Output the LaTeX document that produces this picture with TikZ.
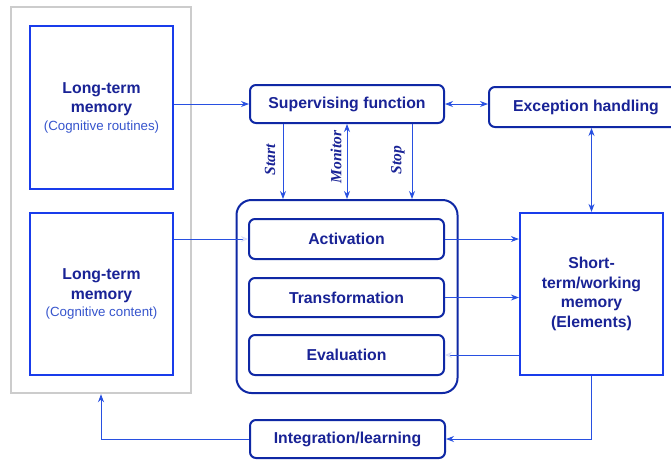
\documentclass[tikz,border=0pt]{standalone}
\usepackage{fontspec}
\setmainfont{Liberation Sans}
\newfontfamily\serifbi{Liberation Serif}
\usetikzlibrary{arrows.meta,calc}
\definecolor{bbox}{RGB}{25,60,235}
\definecolor{navy}{RGB}{15,40,165}
\definecolor{txt}{RGB}{25,35,150}
\definecolor{subtxt}{RGB}{55,85,205}
\definecolor{ln}{RGB}{40,80,225}
\definecolor{faint}{RGB}{215,220,250}
\newcommand\subtx[1]{{\mdseries\fontsize{13.3}{18}\selectfont\color{subtxt}#1}}
\tikzset{
  sqbox/.style={draw=bbox,line width=2.2pt,rectangle,inner sep=0pt,text=txt,align=center,
    font=\bfseries\fontsize{15.8}{19.5}\selectfont},
  rbox/.style={draw=navy,line width=2pt,rectangle,rounded corners=6pt,inner sep=0pt,text=txt,align=center,
    font=\bfseries\fontsize{15.8}{19.5}\selectfont},
  conn/.style={draw=ln,line width=0.9pt},
  arr/.style={conn,-{Stealth[length=8pt,width=6pt]}},
  arrb/.style={conn,{Stealth[length=8pt,width=6pt]}-{Stealth[length=8pt,width=6pt]}},
  farr/.style={conn,-{Stealth[length=7pt,width=6pt,open,color=faint]}},
  lbl/.style={text=txt,font=\serifbi\bfseries\itshape\fontsize{15.5}{17}\selectfont,rotate=90,inner sep=0pt}
}
\begin{document}
\begin{tikzpicture}[x=1pt,y=-1pt]
\useasboundingbox (0,0) rectangle (671,459);
\clip (0,0) rectangle (671,459);
\fill[white] (0,0) rectangle (671,459);
% gray container
\node[draw=black!20,line width=2.4pt,minimum width=180pt,minimum height=386pt,inner sep=0pt] (grayb) at (101,200) {};
% long-term memories
\node[sqbox,minimum width=143pt,minimum height=163pt] (ltm1) at (101.5,107.5)
  {Long-term\\memory\\[-2pt]\subtx{(Cognitive routines)}};
\node[sqbox,minimum width=143pt,minimum height=162pt] (ltm2) at (101.5,294)
  {Long-term\\memory\\[-2pt]\subtx{(Cognitive content)}};
% supervising & exception
\node[rbox,minimum width=194pt,minimum height=38pt] (sup) at (347,104) {Supervising function};
\node[rbox,minimum width=194pt,minimum height=40pt] (exc) at (586,107) {Exception handling};
% process group
\node[draw=navy,line width=2pt,rounded corners=15pt,minimum width=221pt,minimum height=193pt,inner sep=0pt] (proc) at (347,296.5) {};
\node[rbox,minimum width=195pt,minimum height=40pt] (act) at (346.5,239) {Activation};
\node[rbox,minimum width=195pt,minimum height=39pt] (tra) at (346.5,297.5) {Transformation};
\node[rbox,minimum width=195pt,minimum height=40pt] (eva) at (346.5,355) {Evaluation};
% short-term memory
\node[sqbox,minimum width=143pt,minimum height=162pt] (stm) at (591.5,294)
  {Short-\\term/working\\memory\\(Elements)};
% integration
\node[rbox,minimum width=195pt,minimum height=38pt] (integ) at (347.5,439) {Integration/learning};
% connectors
\draw[arr] (ltm1.east |- sup.west) -- (sup.west);
\draw[arrb] (sup.east) -- (sup.east -| exc.west);
\draw[arr] ([xshift=-64pt]sup.south) -- ([xshift=-64pt]sup.south |- proc.north);
\draw[arrb] (sup.south) -- (sup.south |- proc.north);
\draw[arr] ([xshift=65pt]sup.south) -- ([xshift=65pt]sup.south |- proc.north);
\node[lbl] (lstart) at (270,160) {Start};
\node[lbl] (lmon) at (336,157) {Monitor};
\node[lbl] (lstop) at (398,160) {Stop};
\draw[arrb] (stm.north |- exc.south) -- (stm.north);
\draw[farr] (ltm2.east |- act.west) -- (act.west);
\draw[arr] (act.east) -- (act.east -| stm.west);
\draw[arr] (tra.east) -- (tra.east -| stm.west);
\draw[farr] (eva.east -| stm.west) -- (eva.east);
\draw[arr] (stm.south) |- (integ.east);
\draw[arr] (integ.west) -| (grayb.south);
\end{tikzpicture}
\end{document}
